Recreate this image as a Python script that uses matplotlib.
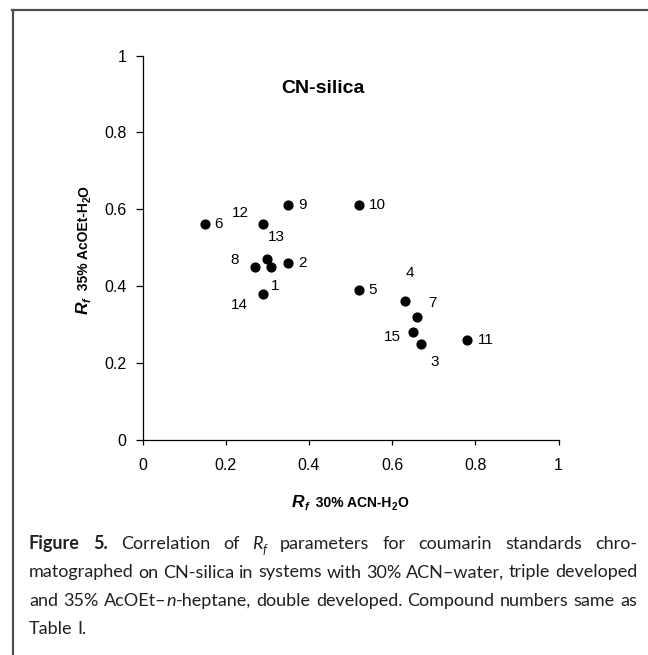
import matplotlib
matplotlib.use("Agg")
import matplotlib.pyplot as plt
from matplotlib import font_manager
from matplotlib.lines import Line2D
from matplotlib.transforms import IdentityTransform

W_PX, H_PX = 648, 655

# Rf values (x: 30% ACN-H2O, y: 35% AcOEt-H2O)
COMPOUNDS = [1, 2, 3, 4, 5, 6, 7, 8, 9, 10, 11, 12, 13, 14, 15]
RF_ACN    = [0.31, 0.35, 0.67, 0.63, 0.52, 0.15, 0.66, 0.27, 0.35, 0.52, 0.78, 0.29, 0.30, 0.29, 0.65]
RF_ACOET  = [0.45, 0.46, 0.25, 0.36, 0.39, 0.56, 0.32, 0.45, 0.61, 0.61, 0.26, 0.56, 0.47, 0.38, 0.28]

TICKS       = [0, 0.2, 0.4, 0.6, 0.8, 1]
TICK_LABELS = ["0", "0.2", "0.4", "0.6", "0.8", "1"]

PANEL_TITLE = "CN-silica"
CAPTION_LINES = [
    "Figure 5. Correlation of R_f parameters for coumarin standards chro-",
    "matographed on CN-silica in systems with 30% ACN\u2013water, triple developed",
    "and 35% AcOEt\u2013n-heptane, double developed. Compound numbers same as",
    "Table I.",
]

# label offsets from each point, in pixels (x right, y up)
LABEL_OFFSETS = {
    1: (4, -19), 2: (14, 0), 3: (13, -19), 4: (5, 28), 5: (14, 0),
    6: (14, 0), 7: (15, 14), 8: (-20, 7), 9: (14, 0), 10: (19, 0),
    11: (19, 0), 12: (-23, 11), 13: (9, 22), 14: (-24, -11), 15: (-21, -5),
}

INK = "#231f20"


def pick_font(names):
    for n in names:
        try:
            font_manager.findfont(n, fallback_to_default=False)
            return n
        except ValueError:
            pass
    return "DejaVu Sans"


AX_FONT = pick_font(["Liberation Sans", "Arial"])
CAP_FONT = pick_font(["Liberation Sans Narrow", "Lato", "Open Sans"])


def text_width(fig, renderer, s, props):
    t = fig.text(0, 0, s, transform=IdentityTransform(), **props)
    w = t.get_window_extent(renderer).width
    t.remove()
    return w


def runs_width(fig, renderer, runs):
    return sum(text_width(fig, renderer, s, p) for s, p, _ in runs)


def place_runs(fig, renderer, x, y, runs, rotation=0):
    # x, y in display pixels (origin bottom-left), anchor = baseline start
    for s, p, rise in runs:
        w = text_width(fig, renderer, s, p)
        if rotation == 0:
            fig.text(x, y + rise, s, transform=IdentityTransform(),
                     ha="left", va="baseline", **p)
            x += w
        else:
            fig.text(x - rise, y, s, transform=IdentityTransform(),
                     rotation=90, rotation_mode="anchor",
                     ha="left", va="baseline", **p)
            y += w


def caption_word_runs(word, line_no, fs):
    base = dict(family=CAP_FONT, fontsize=fs, color=INK)
    bold = dict(base, fontweight="bold")
    ital = dict(base, style="italic")
    if line_no == 0 and word in ("Figure", "5."):
        return [(word, bold, 0)]
    if word == "R_f":
        return [("R", ital, 0), ("f", dict(ital, fontsize=fs * 0.7), -fs * 0.35)]
    if word.startswith("AcOEt\u2013n-"):
        return [("AcOEt\u2013", base, 0), ("n", ital, 0), (word[7:], base, 0)]
    return [(word, base, 0)]


def space_width(fig, renderer, fs):
    p = dict(family=CAP_FONT, fontsize=fs)
    return text_width(fig, renderer, "a a", p) - text_width(fig, renderer, "aa", p)


def draw_caption(fig, renderer):
    x0, x1 = 29, 637
    baselines = [549, 577.5, 606, 634.5]
    fs = 12.5
    # size the font so the widest justified line fills the measure with normal spaces
    for _ in range(4):
        space = space_width(fig, renderer, fs)
        worst = 0
        for i, line in enumerate(CAPTION_LINES[:-1]):
            words = line.split(" ")
            nat = sum(runs_width(fig, renderer, caption_word_runs(w, i, fs)) for w in words)
            nat += space * 0.9 * (len(words) - 1)
            worst = max(worst, nat / (x1 - x0))
        fs = fs / worst
    fs = min(fs, 13)
    space = space_width(fig, renderer, fs)
    for i, line in enumerate(CAPTION_LINES):
        words = line.split(" ")
        runs = [caption_word_runs(w, i, fs) for w in words]
        widths = [runs_width(fig, renderer, r) for r in runs]
        if i < len(CAPTION_LINES) - 1:
            gap = (x1 - x0 - sum(widths)) / (len(words) - 1)
        else:
            gap = space
        x = x0
        y = H_PX - baselines[i]
        for r, w in zip(runs, widths):
            place_runs(fig, renderer, x, y, r)
            x += w + gap


def draw_axis_label(fig, renderer, runs, center, baseline, rotation):
    total = runs_width(fig, renderer, runs)
    if rotation == 0:
        place_runs(fig, renderer, center - total / 2, H_PX - baseline, runs)
    else:
        place_runs(fig, renderer, baseline, H_PX - center - total / 2, runs, rotation=90)


def main():
    fig = plt.figure(figsize=(W_PX / 100, H_PX / 100), dpi=100)
    fig.patch.set_facecolor("white")
    renderer = fig.canvas.get_renderer()

    # plot area: x 0..1 -> px 142.5..558.5, y 0..1 -> px 439.5..55.5
    left, right = 142.5 / W_PX, 558.5 / W_PX
    bottom, top = 1 - 439.5 / H_PX, 1 - 55.5 / H_PX
    ax = fig.add_axes([left, bottom, right - left, top - bottom])

    ax.scatter(RF_ACN, RF_ACOET, s=40, color="black", zorder=3, clip_on=False)
    for c, x, y in zip(COMPOUNDS, RF_ACN, RF_ACOET):
        ax.annotate(str(c), (x, y), xytext=LABEL_OFFSETS[c], textcoords="offset pixels",
                    ha="center", va="center", fontsize=11, family=AX_FONT, color="black")

    ax.set_xlim(0, 1)
    ax.set_ylim(0, 1)
    ax.set_xticks(TICKS)
    ax.set_xticklabels(TICK_LABELS, family=AX_FONT, fontsize=11.5)
    ax.set_yticks(TICKS)
    ax.set_yticklabels(TICK_LABELS, family=AX_FONT, fontsize=11.5)
    ax.tick_params(axis="x", direction="out", length=3.6, width=0.9, pad=10)
    ax.tick_params(axis="y", direction="out", length=5, width=0.9, pad=6.5)
    for side in ("top", "right"):
        ax.spines[side].set_visible(False)
    for side in ("left", "bottom"):
        ax.spines[side].set_linewidth(0.9)
        ax.spines[side].set_color("black")

    fig.text(322.6 / W_PX, 1 - 88.3 / H_PX, PANEL_TITLE, ha="center", va="center",
             fontsize=14, fontweight="bold", family=AX_FONT)

    lab = dict(family=AX_FONT, fontweight="bold", color="black")
    rf = dict(lab, style="italic")
    xl = [("R", dict(rf, fontsize=12.5), 0), ("f", dict(rf, fontsize=8), -3),
          ("  30% ACN-H", dict(lab, fontsize=10), 0), ("2", dict(lab, fontsize=7), -3),
          ("O", dict(lab, fontsize=10), 0)]
    yl = [("R", dict(rf, fontsize=12.5), 0), ("f", dict(rf, fontsize=8), -3),
          ("  35% AcOEt-H", dict(lab, fontsize=10), 0), ("2", dict(lab, fontsize=7), -3),
          ("O", dict(lab, fontsize=10), 0)]
    draw_axis_label(fig, renderer, xl, center=350, baseline=507, rotation=0)
    draw_axis_label(fig, renderer, yl, center=250, baseline=88, rotation=90)

    draw_caption(fig, renderer)

    # frame around the figure panel (left and top edges visible)
    frame = dict(transform=IdentityTransform(), color="#4d4d4d", linewidth=1.6)
    fig.add_artist(Line2D([12.5, 12.5], [H_PX - 9.5, 0], **frame))
    fig.add_artist(Line2D([12, W_PX], [H_PX - 10, H_PX - 10], **frame))

    fig.savefig("out.png", dpi=100, facecolor=fig.get_facecolor())
    plt.close(fig)


if __name__ == "__main__":
    main()
